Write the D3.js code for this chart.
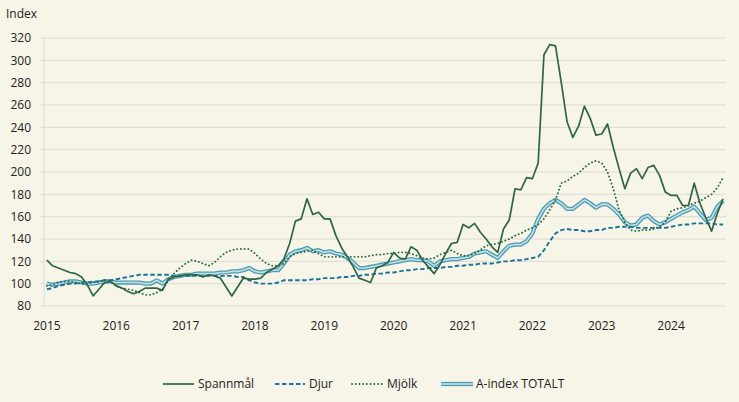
<!DOCTYPE html>
<html><head><meta charset="utf-8">
<script src="https://cdn.jsdelivr.net/npm/d3@7"></script>
<style>
html,body{margin:0;padding:0;background:#f7f4e8;}
svg{display:block;font-family:"Open Sans",sans-serif;}
</style></head>
<body><svg id="c" width="739" height="402"></svg>
<script>
const years = ["2015","2016","2017","2018","2019","2020","2021","2022","2023","2024"];
const yTicks = [80,100,120,140,160,180,200,220,240,260,280,300,320];
const seriesNames = ["Spannmål","Djur","Mjölk","A-index TOTALT"];
const spannmal = [
121,116,114,112,110,109,106,99,89,95,101,102,
98,96,93,91,93,96,96,96,94,104,106,107,
108,108,108,106,108,107,105,97,89,97,105,104,
104,105,110,113,116,122,136,156,158,176,162,164,
158,158,143,132,124,115,105,103,101,114,116,119,
128,123,122,133,130,121,115,109,117,127,136,137,
153,150,154,146,140,133,128,149,157,185,184,195,
194,208,305,314,313,280,245,231,241,259,248,233,
234,243,222,203,185,199,203,194,204,206,197,182,
179,179,170,170,190,172,159,147,163,176];
const djur = [
95,96,98,99,100,100,101,101,102,102,103,103,
104,105,106,107,108,108,108,108,108,108,107,107,
107,107,107,107,107,107,107,107,107,106,106,103,
101,100,100,100,101,103,103,103,103,103,104,104,
105,105,105,106,106,107,107,108,108,109,109,110,
110,111,112,112,113,113,114,114,114,115,115,116,
116,117,117,118,118,118,119,120,120,121,121,122,
123,124,130,138,145,148,149,148,148,147,147,148,
148,150,150,151,151,151,150,150,150,150,150,150,
151,152,153,153,154,154,154,154,153,153];
const mjolk = [
98,99,101,102,102,101,100,100,101,102,103,102,
98,96,95,94,92,90,90,92,95,103,109,114,
118,121,120,118,116,119,124,128,130,131,131,131,
127,122,118,116,116,118,124,127,128,129,130,127,
124,124,124,124,124,124,124,124,125,126,126,127,
127,128,128,127,125,123,122,123,126,128,130,127,
125,125,127,130,134,135,136,138,140,143,145,148,
150,153,158,166,175,190,192,196,199,204,208,210,
208,200,185,166,155,148,147,148,148,149,151,155,
165,167,168,170,172,174,177,180,186,195];
const aindex = [
100,99,100,101,102,102,101,100,100,101,102,102,
101,101,101,101,101,100,100,103,100,104,106,107,
108,108,109,109,109,109,110,110,111,111,112,114,
111,110,111,112,112,118,126,129,130,132,129,130,
128,129,127,126,123,119,114,114,115,116,117,118,
119,120,121,122,121,121,120,116,120,121,122,122,
123,124,127,128,129,126,123,129,134,135,135,138,
145,158,167,172,175,172,167,167,171,175,172,168,
171,171,167,162,155,152,153,159,161,156,153,155,
158,161,164,166,169,163,157,159,169,174];

const months = [];
years.forEach(yr => { for (let m = 1; m <= 12; m++) months.push(yr + "-" + String(m).padStart(2,"0")); });
const cats = months.slice(0, spannmal.length);

const svg = d3.select("#c");
const pL = 44, pR = 726, pT = 38, pB = 306;
const x = d3.scaleBand().domain(cats).range([pL, pR]);
const y = d3.scaleLinear().domain([80, 320]).range([pB, pT]);
const cx = d => x(d) + x.bandwidth() / 2;

// gridlines
svg.append("g").selectAll("line").data(yTicks).join("line")
  .attr("x1", pL - 4).attr("x2", pR)
  .attr("y1", d => y(d)).attr("y2", d => y(d))
  .attr("stroke", "#dddbd4").attr("stroke-width", 1);
svg.append("line").attr("x1", pL).attr("x2", pL).attr("y1", pT).attr("y2", pB)
  .attr("stroke", "#dddbd4");

// y labels
svg.append("g").selectAll("text").data(yTicks).join("text")
  .attr("x", 31).attr("y", d => y(d)).attr("dy", "0.35em")
  .attr("text-anchor", "end").attr("font-size", 12).attr("fill", "#222")
  .text(d => d);
svg.append("text").attr("x", 6).attr("y", 18).attr("font-size", 12).attr("fill", "#222").text("Index");

// x labels
const janCats = cats.filter(c => c.endsWith("-01"));
svg.append("g").selectAll("text").data(janCats).join("text")
  .attr("x", d => cx(d)).attr("y", 330).attr("text-anchor", "middle")
  .attr("font-size", 12).attr("fill", "#222").text(d => d.slice(0, 4));

const line = d3.line().x((d, i) => cx(cats[i])).y(d => y(d));

// A-index (double line)
svg.append("path").datum(aindex).attr("d", line).attr("fill", "none")
  .attr("stroke", "#4f9bb0").attr("stroke-width", 4.2).attr("stroke-linejoin", "round");
svg.append("path").datum(aindex).attr("d", line).attr("fill", "none")
  .attr("stroke", "#bfe1ea").attr("stroke-width", 1.6).attr("stroke-linejoin", "round");
// Djur
svg.append("path").datum(djur).attr("d", line).attr("fill", "none")
  .attr("stroke", "#1b7399").attr("stroke-width", 1.9).attr("stroke-dasharray", "4.5,2.5");
// Mjölk
svg.append("path").datum(mjolk).attr("d", line).attr("fill", "none")
  .attr("stroke", "#2f6a48").attr("stroke-width", 1.9).attr("stroke-linecap", "round")
  .attr("stroke-dasharray", "0.1,3.6");
// Spannmål
svg.append("path").datum(spannmal).attr("d", line).attr("fill", "none")
  .attr("stroke", "#2e6644").attr("stroke-width", 1.7).attr("stroke-linejoin", "round");

// legend
const ly = 384;
const lg = svg.append("g");
const items = [
  {name: seriesNames[0], x1: 163, x2: 194, tx: 198},
  {name: seriesNames[1], x1: 275, x2: 305, tx: 309},
  {name: seriesNames[2], x1: 352, x2: 382, tx: 387},
  {name: seriesNames[3], x1: 441, x2: 473, tx: 476}
];
lg.append("line").attr("x1", items[0].x1).attr("x2", items[0].x2).attr("y1", ly).attr("y2", ly)
  .attr("stroke", "#2e6644").attr("stroke-width", 1.7);
lg.append("line").attr("x1", items[1].x1).attr("x2", items[1].x2).attr("y1", ly).attr("y2", ly)
  .attr("stroke", "#1b7399").attr("stroke-width", 1.9).attr("stroke-dasharray", "4.5,2.5");
lg.append("line").attr("x1", items[2].x1).attr("x2", items[2].x2).attr("y1", ly).attr("y2", ly)
  .attr("stroke", "#2f6a48").attr("stroke-width", 1.9).attr("stroke-linecap", "round").attr("stroke-dasharray", "0.1,3.6");
lg.append("line").attr("x1", items[3].x1).attr("x2", items[3].x2).attr("y1", ly).attr("y2", ly)
  .attr("stroke", "#4f9bb0").attr("stroke-width", 4.2);
lg.append("line").attr("x1", items[3].x1).attr("x2", items[3].x2).attr("y1", ly).attr("y2", ly)
  .attr("stroke", "#bfe1ea").attr("stroke-width", 1.6);
lg.selectAll("text").data(items).join("text")
  .attr("x", d => d.tx).attr("y", ly).attr("dy", "0.35em")
  .attr("font-size", 12).attr("fill", "#222").text(d => d.name);
</script></body></html>
